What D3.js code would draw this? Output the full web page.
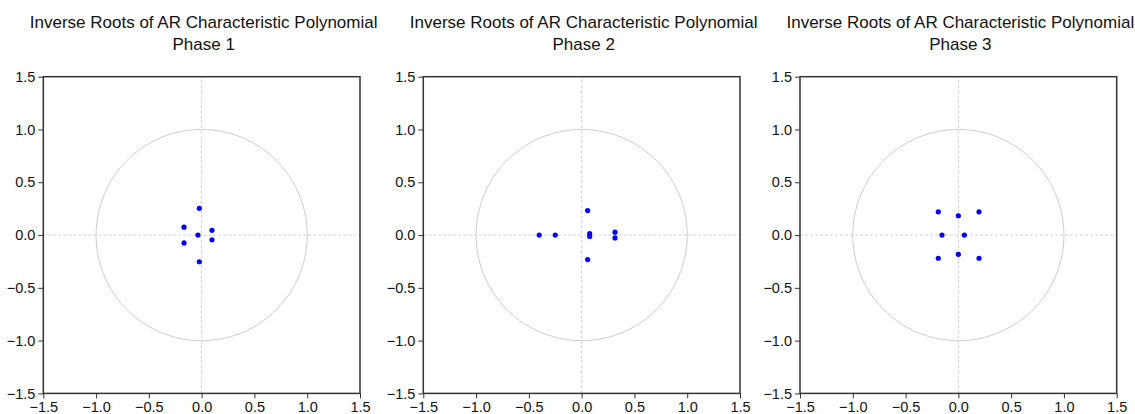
<!DOCTYPE html>
<html><head><meta charset="utf-8">
<script src="https://cdn.jsdelivr.net/npm/d3@7"></script>
<style>body{margin:0;background:#fff}svg{display:block}</style>
</head><body>
<svg id="c" width="1135" height="414"></svg>
<script>
const titleLine = "Inverse Roots of AR Characteristic Polynomial";
const phases = ["Phase 1", "Phase 2", "Phase 3"];
const ticks = [-1.5, -1.0, -0.5, 0.0, 0.5, 1.0, 1.5];
// inverse roots: real and imaginary parts
const phase1Re = [-0.022, -0.022, -0.167, -0.167, 0.098, 0.098, -0.035];
const phase1Im = [0.253, -0.253, 0.075, -0.075, 0.045, -0.045, 0.0];
const phase2Re = [0.057, 0.057, -0.402, -0.25, 0.076, 0.076, 0.316, 0.316];
const phase2Im = [0.232, -0.232, 0.0, 0.0, 0.013, -0.013, 0.027, -0.027];
const phase3Re = [-0.19, -0.19, 0.196, 0.196, 0.0, 0.0, -0.155, 0.057];
const phase3Im = [0.22, -0.22, 0.22, -0.22, 0.183, -0.183, 0.0, 0.0];
const phaseData = [[phase1Re, phase1Im], [phase2Re, phase2Im], [phase3Re, phase3Im]];

(function () {
const svg = d3.select("#c");
const lefts = [43.3, 423.3, 800];
const plotTop = 76.7, size = 316.7;
const font = "Liberation Sans, Arial, sans-serif";

phases.forEach((ph, i) => {
  const x0 = lefts[i];
  const x = d3.scaleLinear().domain([-1.5, 1.5]).range([x0, x0 + size]);
  const y = d3.scaleLinear().domain([-1.5, 1.5]).range([plotTop + size, plotTop]);
  const g = svg.append("g");
  const cx = x0 + size / 2 + 2;
  g.append("text").attr("x", cx).attr("y", 28).attr("text-anchor", "middle")
    .attr("font-family", font).attr("font-size", 17).attr("fill", "#111").text(titleLine);
  g.append("text").attr("x", cx).attr("y", 50).attr("text-anchor", "middle")
    .attr("font-family", font).attr("font-size", 17).attr("fill", "#111").text(ph);

  g.append("line").attr("x1", x(-1.5)).attr("x2", x(1.5)).attr("y1", y(0)).attr("y2", y(0))
    .attr("stroke", "#cfcfcf").attr("stroke-dasharray", "3,2");
  g.append("line").attr("x1", x(0)).attr("x2", x(0)).attr("y1", y(-1.5)).attr("y2", y(1.5))
    .attr("stroke", "#cfcfcf").attr("stroke-dasharray", "3,2");
  const circ = d3.range(0, 361, 2).map(a => [Math.cos(a * Math.PI / 180), Math.sin(a * Math.PI / 180)]);
  g.append("path").attr("d", d3.line().x(d => x(d[0])).y(d => y(d[1]))(circ))
    .attr("fill", "none").attr("stroke", "#cccccc").attr("stroke-width", 1);

  const [re, im] = phaseData[i];
  g.selectAll("circle.pt").data(re.map((r, k) => [r, im[k]])).enter().append("circle")
    .attr("cx", d => x(d[0])).attr("cy", d => y(d[1])).attr("r", 2.6).attr("fill", "#0000ff");

  g.append("rect").attr("x", x0).attr("y", plotTop).attr("width", size).attr("height", size)
    .attr("fill", "none").attr("stroke", "#333").attr("stroke-width", 1.5);

  const ax = g.append("g").attr("transform", `translate(0,${plotTop + size})`)
    .call(d3.axisBottom(x).tickValues(ticks).tickFormat(d3.format(".1f")).tickSize(5).tickPadding(3));
  const ay = g.append("g").attr("transform", `translate(${x0},0)`)
    .call(d3.axisLeft(y).tickValues(ticks).tickFormat(d3.format(".1f")).tickSize(5).tickPadding(3));
  [ax, ay].forEach(a => {
    a.select(".domain").remove();
    a.selectAll("line").attr("stroke", "#333");
    a.selectAll("text").attr("font-family", font).attr("font-size", 14.5).attr("fill", "#111");
  });
});
})();
</script>
</body></html>
